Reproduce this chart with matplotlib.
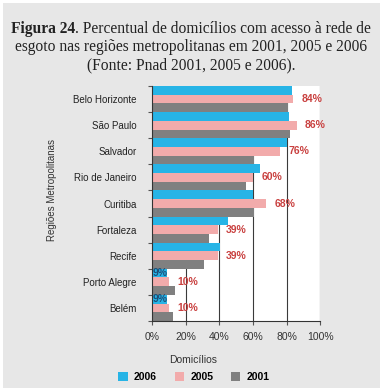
import matplotlib.pyplot as plt
from matplotlib.patches import Rectangle
import numpy as np

plt.rcParams['font.family'] = ['Liberation Sans', 'DejaVu Sans']

regioes = ['Belo Horizonte', 'São Paulo', 'Salvador', 'Rio de Janeiro', 'Curitiba',
           'Fortaleza', 'Recife', 'Porto Alegre', 'Belém']
v2006 = [83.5, 81.3, 80, 64.4, 60, 45, 40.6, 9, 9]
v2005 = [84, 86, 76, 60, 68, 39, 39, 10, 10]
v2001 = [80.7, 81.9, 60.4, 56, 60.4, 33.6, 31.2, 13.9, 12.7]
rotulos_2005 = ['84%', '86%', '76%', '60%', '68%', '39%', '39%', '10%', '10%']
rotulos_2006 = ['', '', '', '', '', '', '', '9%', '9%']
xticks = [0, 20, 40, 60, 80, 100]

c2006 = '#27b4e6'
c2005 = '#f2abab'
c2001 = '#808080'
fundo = '#e7e7e7'

fig = plt.figure(figsize=(3.82, 3.91), dpi=100, facecolor='white')
fig.patches.append(Rectangle((0.008, 0.008), 0.987, 0.984, transform=fig.transFigure,
                             facecolor=fundo, edgecolor='none', zorder=-10))
ax = fig.add_axes([0.398, 0.179, 0.44, 0.601])

y = np.arange(len(regioes))
h = 1 / 3
ax.barh(y - h, v2006, height=h, color=c2006, label='2006', zorder=2)
ax.barh(y, v2005, height=h, color=c2005, label='2005', zorder=2)
ax.barh(y + h, v2001, height=h, color=c2001, label='2001', zorder=2)

for i in range(len(regioes)):
    ax.annotate(rotulos_2005[i], xy=(v2005[i], y[i]), xytext=(6, 0), textcoords='offset points',
                va='center', ha='left', fontsize=7.5, fontweight='bold', color='#c9403f',
                annotation_clip=False, zorder=4)
    if rotulos_2006[i]:
        ax.text(0.3, y[i] - h, rotulos_2006[i], va='center', ha='left', fontsize=7.5,
                fontweight='bold', color='#1d4f78', zorder=4)

ax.set_xlim(0, 100)
ax.set_ylim(len(regioes) - 0.5, -0.5)
ax.set_xticks(xticks)
ax.set_xticklabels([f'{t}%' for t in xticks], fontsize=7.5, color='#333333')
ax.set_yticks(np.arange(len(regioes) + 1) - 0.5)
ax.set_yticklabels([])
ax.set_yticks(y, minor=True)
ax.set_yticklabels(regioes, minor=True, fontsize=7, color='#222222')
ax.tick_params(axis='y', which='major', length=3, direction='out', color='#555555')
ax.tick_params(axis='y', which='minor', length=0, pad=11)
ax.tick_params(axis='x', length=3, direction='out', pad=5, color='#555555')
ax.xaxis.grid(True, color='#3a3a3a', linewidth=0.8, zorder=1)
ax.set_axisbelow(True)
for s in ['top', 'right']:
    ax.spines[s].set_visible(False)
ax.spines['left'].set_color('#333333')
ax.spines['bottom'].set_color('#333333')
ax.set_facecolor('white')

fig.text(52 / 382, 1 - 190 / 391, 'Regiões Metropolitanas', rotation=90, fontsize=7,
         ha='center', va='center', color='#333333')
fig.text(193 / 382, 1 - 360 / 391, 'Domicílios', fontsize=7.5, ha='center', va='center',
         color='#333333')

handles, labels = ax.get_legend_handles_labels()
leg = fig.legend(handles, labels, loc='center', bbox_to_anchor=(194 / 382, 1 - 377 / 391),
                 ncol=3, frameon=False, handlelength=0.9, handleheight=0.9, handletextpad=0.6,
                 columnspacing=1.7, prop={'size': 7.5, 'weight': 'bold'})

# título em fonte serifada
serif = ['Liberation Serif', 'DejaVu Serif']
renderer = fig.canvas.get_renderer()
t1 = fig.text(0, 1 - 33 / 391, 'Figura 24', fontsize=11.2, fontweight='bold',
              family=serif, ha='left', va='baseline', color='#222222')
t2 = fig.text(0, 1 - 33 / 391, '. Percentual de domicílios com acesso à rede de', fontsize=11.2,
              family=serif, ha='left', va='baseline', color='#222222')
w1 = t1.get_window_extent(renderer).width
w2 = t2.get_window_extent(renderer).width
x0 = (191 - (w1 + w2) / 2) / 382
t1.set_x(x0)
t2.set_x(x0 + w1 / 382)
fig.text(191 / 382, 1 - 51 / 391, 'esgoto nas regiões metropolitanas em 2001, 2005 e 2006',
         fontsize=11.2, family=serif, ha='center', va='baseline', color='#222222')
fig.text(191 / 382, 1 - 69 / 391, '(Fonte: Pnad 2001, 2005 e 2006).',
         fontsize=11.2, family=serif, ha='center', va='baseline', color='#222222')

plt.savefig('out.png', dpi=100)
